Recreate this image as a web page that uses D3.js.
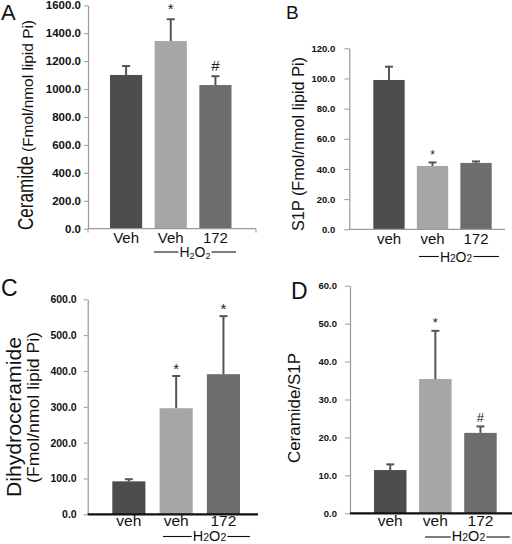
<!DOCTYPE html>
<html>
<head>
<meta charset="utf-8">
<script src="https://cdn.jsdelivr.net/npm/d3@7"></script>
<style>
  html, body { margin: 0; padding: 0; background: #fff; }
  svg { display: block; font-family: "Liberation Sans", Arial, sans-serif; }
</style>
</head>
<body>
<svg id="chart" width="512" height="544"></svg>
<script>
// ---------- data ----------
const catsA = ["Veh", "Veh", "172"];
const catsLower = ["veh", "veh", "172"];

const ceramide = [1101, 1344, 1029];
const ceramideErr = [64, 156, 63];
const ceramideMarks = ["", "*", "#"];
const ceramideTicks = [0, 200, 400, 600, 800, 1000, 1200, 1400, 1600];

const s1p = [99, 42, 44];
const s1pErr = [8.8, 2.3, 1.0];
const s1pMarks = ["", "*", ""];
const s1pTicks = [0, 20, 40, 60, 80, 100, 120];

const dihydro = [92, 296, 391];
const dihydroErr = [6, 90, 162];
const dihydroMarks = ["", "*", "*"];
const dihydroTicks = [0, 100, 200, 300, 400, 500, 600];

const ratio = [11.4, 35.4, 21.2];
const ratioErr = [1.5, 12.7, 1.7];
const ratioMarks = ["", "*", "#"];
const ratioTicks = [0, 10, 20, 30, 40, 50, 60];

const barColors = ["#4d4d4d", "#a6a6a6", "#6d6d6d"];

// ---------- drawing ----------
const svg = d3.select("#chart");
const fmt = d3.format(".1f");

function panel(cfg) {
  const g = svg.append("g");
  const y = d3.scaleLinear().domain([0, cfg.max]).range([cfg.y0, cfg.y1]);
  const x = d3.scaleBand().domain(d3.range(cfg.values.length))
    .range([cfg.bx0, cfg.bx1]).paddingInner(cfg.pad).paddingOuter(0);

  // y axis
  const axis = d3.axisLeft(y).tickValues(cfg.ticks).tickFormat(fmt)
    .tickSize(cfg.tickSize).tickSizeOuter(0).tickPadding(cfg.tickPad);
  const ag = g.append("g").attr("transform", `translate(${cfg.ax},0)`).call(axis);
  ag.select(".domain").attr("stroke", "#9a9a9a").attr("stroke-width", 1.2);
  ag.selectAll(".tick line").attr("stroke", "#9a9a9a");
  ag.selectAll(".tick text").attr("fill", "#111").attr("font-weight", "bold")
    .attr("font-size", cfg.tickFont).attr("font-family", "'Liberation Sans', Arial, sans-serif");

  // bars
  g.selectAll("rect.bar").data(cfg.values).join("rect")
    .attr("class", "bar")
    .attr("x", (d, i) => x(i))
    .attr("width", x.bandwidth())
    .attr("y", d => y(d))
    .attr("height", d => y(0) - y(d))
    .attr("fill", (d, i) => barColors[i]);

  // error bars (upper only)
  const cap = 4;
  cfg.values.forEach((v, i) => {
    const cx = x(i) + x.bandwidth() / 2;
    const top = y(v + cfg.err[i]);
    g.append("line").attr("x1", cx).attr("x2", cx).attr("y1", y(v)).attr("y2", top)
      .attr("stroke", "#555").attr("stroke-width", 2);
    g.append("line").attr("x1", cx - cap).attr("x2", cx + cap).attr("y1", top).attr("y2", top)
      .attr("stroke", "#555").attr("stroke-width", 2);
    if (cfg.marks[i]) {
      g.append("text").attr("x", cx).attr("y", top - cfg.markGap)
        .attr("text-anchor", "middle").attr("font-size", cfg.markFont)
        .attr("fill", "#222").text(cfg.marks[i]);
    }
  });

  // x axis line
  g.append("line").attr("x1", cfg.ax).attr("x2", cfg.xEnd)
    .attr("y1", y(0)).attr("y2", y(0))
    .attr("stroke", cfg.xColor).attr("stroke-width", cfg.xWidth);
  if (cfg.xEndTicks) {
    [cfg.ax, cfg.xEnd].forEach(px => {
      g.append("line").attr("x1", px).attr("x2", px).attr("y1", y(0)).attr("y2", y(0) + 4)
        .attr("stroke", "#9a9a9a");
    });
  }

  // category labels
  g.selectAll("text.cat").data(cfg.cats).join("text")
    .attr("class", "cat")
    .attr("x", (d, i) => x(i) + x.bandwidth() / 2)
    .attr("y", cfg.catY)
    .attr("text-anchor", "middle")
    .attr("font-size", cfg.catFont)
    .attr("fill", "#111")
    .text(d => d);

  // H2O2 bracket
  const h = cfg.h2o2;
  const ht = g.append("text").attr("x", h.cx).attr("y", h.base)
    .attr("text-anchor", "middle").attr("font-size", h.size).attr("fill", "#111");
  ht.append("tspan").text("H");
  ht.append("tspan").attr("font-size", h.sub).attr("dy", h.subDy).text("2");
  ht.append("tspan").attr("dy", -h.subDy).text("O");
  ht.append("tspan").attr("font-size", h.sub).attr("dy", h.subDy).text("2");
  const bb = ht.node().getBBox();
  g.append("line").attr("x1", h.x0).attr("x2", bb.x - 1).attr("y1", h.lineY).attr("y2", h.lineY)
    .attr("stroke", "#111").attr("stroke-width", 1.1);
  g.append("line").attr("x1", bb.x + bb.width + 1).attr("x2", h.x1).attr("y1", h.lineY).attr("y2", h.lineY)
    .attr("stroke", "#111").attr("stroke-width", 1.1);

  // y labels (rotated)
  cfg.ylabels.forEach(l => {
    g.append("text")
      .attr("transform", `translate(${l.x},${l.y}) rotate(-90)`)
      .attr("text-anchor", "start")
      .attr("font-size", l.size)
      .attr("fill", "#111")
      .attr("textLength", l.len)
      .attr("lengthAdjust", "spacingAndGlyphs")
      .text(l.text);
  });

  // panel letter
  g.append("text").attr("x", cfg.letter.x).attr("y", cfg.letter.y)
    .attr("font-size", cfg.letter.size).attr("fill", "#111").text(cfg.letter.t);
}

// Panel A
panel({
  values: ceramide, err: ceramideErr, marks: ceramideMarks, ticks: ceramideTicks, cats: catsA,
  max: 1600, y0: 228.7, y1: 5.3, ax: 88, bx0: 110, bx1: 231.5, pad: 0.28,
  tickSize: 4, tickPad: 3, tickFont: 11.5,
  xEnd: 256, xColor: "#9a9a9a", xWidth: 1.2, xEndTicks: true,
  catY: 243, catFont: 15, markFont: 15, markGap: 5,
  h2o2: { cx: 195, base: 257, size: 14, sub: 9, subDy: 1.5, lineY: 252, x0: 154, x1: 236 },
  ylabels: [
    { text: "Ceramide", x: 33, y: 230, size: 22, len: 74 },
    { text: "(Fmol/nmol lipid Pi)", x: 32.5, y: 152, size: 14, len: 132 }
  ],
  letter: { t: "A", x: 1, y: 19.5, size: 22 }
});

// Panel B
panel({
  values: s1p, err: s1pErr, marks: s1pMarks, ticks: s1pTicks, cats: catsLower,
  max: 120, y0: 229.3, y1: 48.3, ax: 349.3, bx0: 373.3, bx1: 491.7, pad: 0.28,
  tickSize: 5, tickPad: 9, tickFont: 9.5,
  xEnd: 505, xColor: "#9a9a9a", xWidth: 1.2, xEndTicks: false,
  catY: 243.5, catFont: 15, markFont: 12, markGap: 3,
  h2o2: { cx: 456, base: 261.5, size: 14, sub: 10, subDy: 0, lineY: 256.5, x0: 419, x1: 499 },
  ylabels: [
    { text: "S1P  (Fmol/nmol lipid Pi)", x: 303.5, y: 231, size: 16, len: 174 }
  ],
  letter: { t: "B", x: 286, y: 18.5, size: 19 }
});

// Panel C
panel({
  values: dihydro, err: dihydroErr, marks: dihydroMarks, ticks: dihydroTicks, cats: catsLower,
  max: 600, y0: 514.3, y1: 299.3, ax: 87.7, bx0: 112.3, bx1: 240, pad: 0.3,
  tickSize: 4, tickPad: 7, tickFont: 10.5,
  xEnd: 258, xColor: "#111", xWidth: 2.2, xEndTicks: false,
  catY: 525.5, catFont: 15.5, markFont: 15, markGap: 2,
  h2o2: { cx: 209.5, base: 541, size: 14.5, sub: 10.5, subDy: 0, lineY: 536.5, x0: 163, x1: 250 },
  ylabels: [
    { text: "Dihydroceramide", x: 21, y: 497, size: 20, len: 160 },
    { text: "(Fmol/nmol lipid Pi)", x: 39, y: 483, size: 16, len: 151 }
  ],
  letter: { t: "C", x: 1, y: 295.5, size: 23 }
});

// Panel D
panel({
  values: ratio, err: ratioErr, marks: ratioMarks, ticks: ratioTicks, cats: catsLower,
  max: 60, y0: 513.3, y1: 285.7, ax: 350, bx0: 374, bx1: 496.7, pad: 0.28,
  tickSize: 5, tickPad: 8, tickFont: 9.5,
  xEnd: 512, xColor: "#111", xWidth: 2.2, xEndTicks: false,
  catY: 525.5, catFont: 15.5, markFont: 13, markGap: 4,
  h2o2: { cx: 468.5, base: 541, size: 14.5, sub: 10.5, subDy: 0, lineY: 537, x0: 425, x1: 510 },
  ylabels: [
    { text: "Ceramide/S1P", x: 300, y: 463, size: 16.5, len: 110 }
  ],
  letter: { t: "D", x: 291, y: 298.5, size: 23 }
});
</script>
</body>
</html>
